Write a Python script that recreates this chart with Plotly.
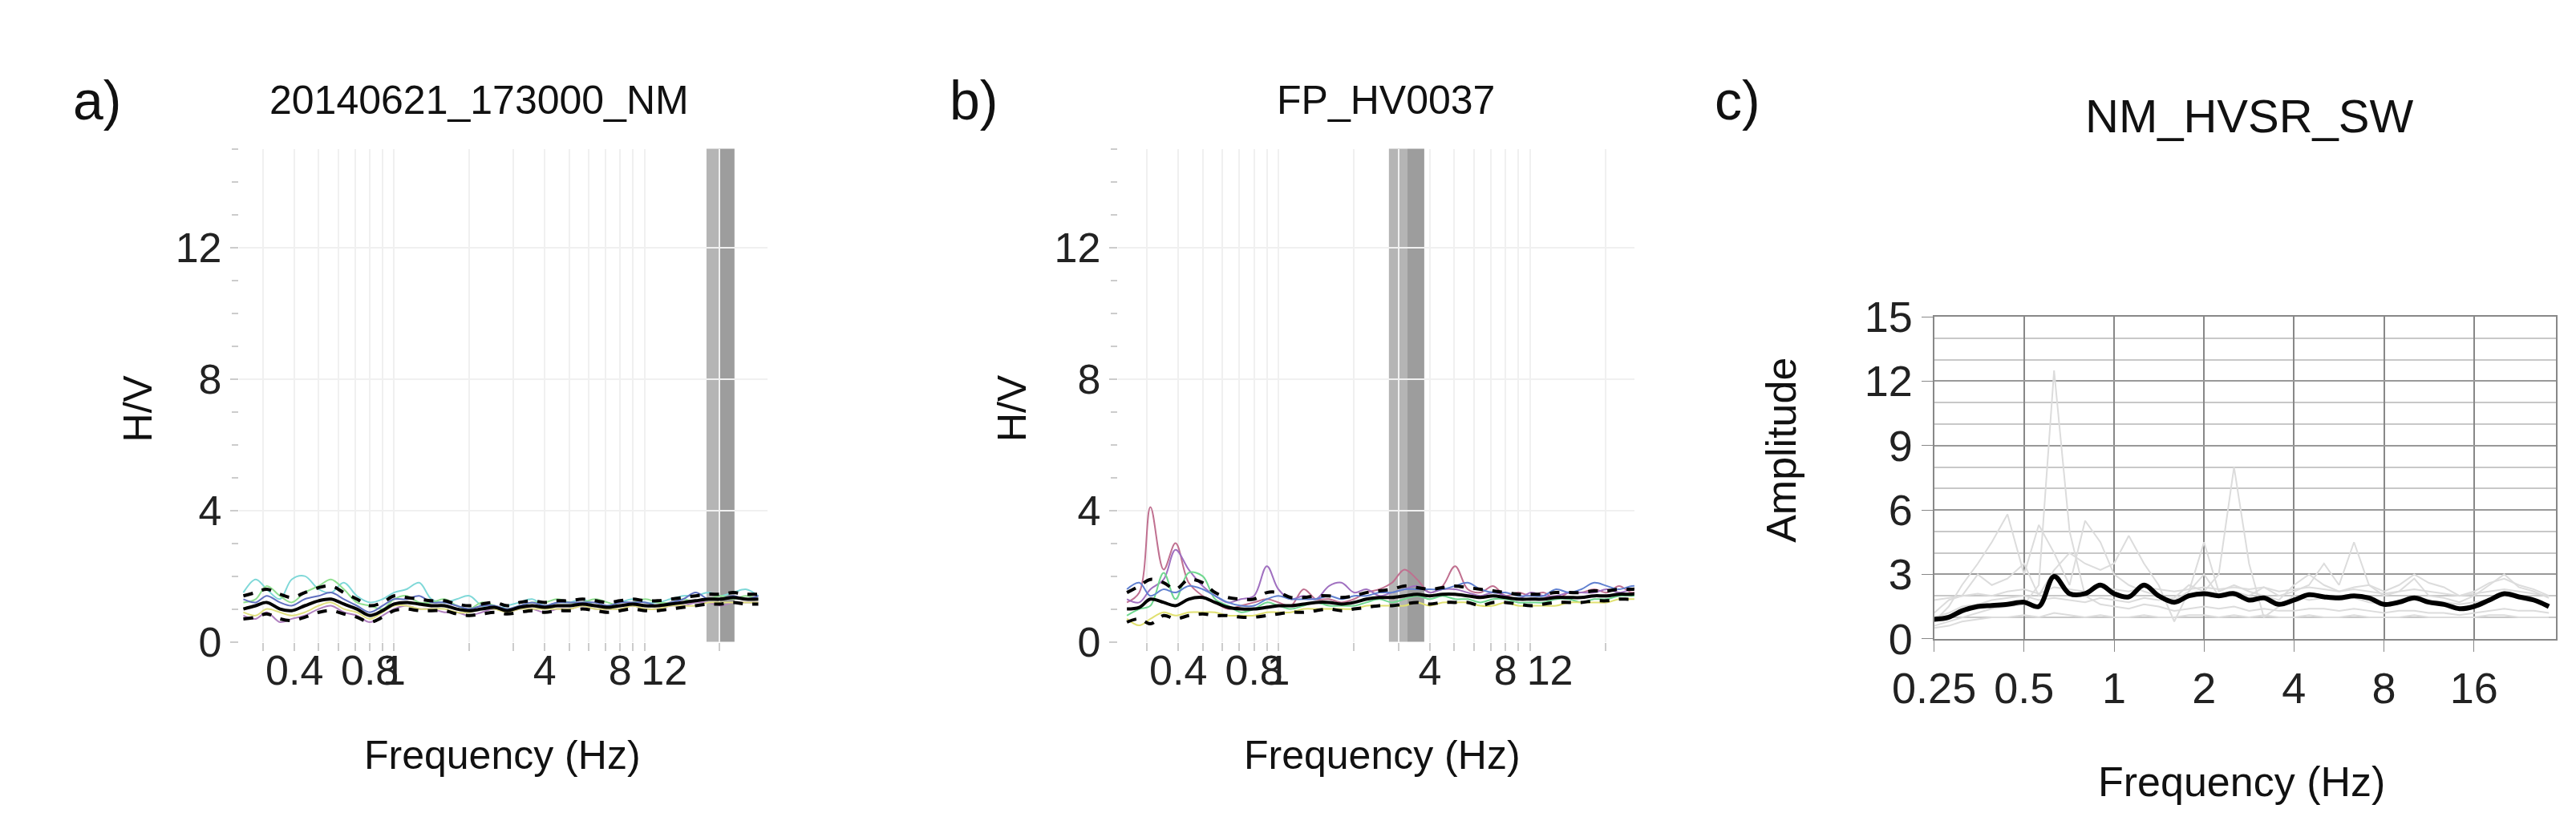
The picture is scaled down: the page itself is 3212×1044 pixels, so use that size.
import plotly.graph_objects as go
import math

freq = [0.25,0.28,0.31,0.35,0.39,0.44,0.5,0.56,0.63,0.71,0.8,0.9,1.0,1.12,1.26,1.41,1.59,1.78,2.0,2.24,2.52,2.83,3.17,3.56,4.0,4.49,5.04,5.66,6.35,7.13,8.0,8.98,10.1,11.3,12.7,14.3,16.0,18.0,20.2,22.6,25.4,28.5]

# Panel a
a_mean = [1.0,1.1,1.2,1.0,0.95,1.1,1.25,1.3,1.15,1.0,0.8,0.95,1.15,1.2,1.15,1.1,1.1,1.0,0.95,1.0,1.05,0.95,1.05,1.1,1.05,1.1,1.1,1.15,1.1,1.05,1.1,1.15,1.1,1.1,1.15,1.2,1.25,1.3,1.3,1.35,1.3,1.3]
a_up = [1.4,1.5,1.6,1.45,1.35,1.5,1.65,1.7,1.5,1.3,1.1,1.2,1.4,1.35,1.3,1.25,1.25,1.15,1.1,1.15,1.2,1.1,1.2,1.25,1.2,1.25,1.25,1.3,1.25,1.2,1.25,1.3,1.25,1.25,1.3,1.35,1.4,1.45,1.45,1.5,1.45,1.45]
a_lo = [0.7,0.75,0.85,0.7,0.65,0.75,0.9,0.95,0.85,0.75,0.6,0.75,0.95,1.0,0.95,0.95,0.95,0.85,0.8,0.85,0.9,0.85,0.9,0.95,0.9,0.95,0.95,1.0,0.95,0.9,0.95,1.0,0.95,0.95,1.0,1.05,1.1,1.15,1.15,1.2,1.15,1.15]
a_c1 = [1.5,1.9,1.6,1.3,1.9,2.0,1.6,1.5,1.8,1.4,1.2,1.3,1.5,1.6,1.8,1.3,1.2,1.3,1.4,1.1,1.0,1.1,1.2,1.3,1.1,1.2,1.2,1.3,1.1,1.1,1.2,1.3,1.2,1.2,1.3,1.4,1.4,1.5,1.4,1.5,1.6,1.4]
a_c2 = [1.2,1.3,1.7,1.4,1.2,1.5,1.7,1.9,1.6,1.2,1.1,1.0,1.3,1.4,1.2,1.2,1.3,1.1,1.0,1.2,1.1,1.0,1.1,1.2,1.2,1.3,1.2,1.2,1.3,1.2,1.1,1.2,1.3,1.2,1.2,1.3,1.2,1.3,1.4,1.3,1.4,1.3]
a_c3 = [0.8,0.7,0.9,0.6,0.7,0.8,1.0,1.1,0.9,0.8,0.6,0.8,1.0,1.1,1.0,1.0,0.9,0.9,0.8,0.9,1.0,0.9,1.0,1.0,0.9,1.0,1.0,1.1,1.0,1.0,1.0,1.1,1.0,1.0,1.1,1.1,1.2,1.2,1.1,1.2,1.2,1.2]
a_c4 = [1.3,1.2,1.4,1.2,1.1,1.3,1.4,1.5,1.3,1.1,0.9,1.1,1.3,1.3,1.4,1.2,1.2,1.1,1.0,1.1,1.1,1.0,1.1,1.2,1.1,1.2,1.2,1.2,1.2,1.1,1.2,1.2,1.2,1.1,1.2,1.3,1.5,1.3,1.3,1.4,1.3,1.4]
a_c5 = [0.9,0.8,1.0,0.9,0.8,0.9,1.1,1.2,1.0,0.9,0.7,0.9,1.1,1.1,1.0,1.0,1.0,0.9,0.9,1.0,1.0,0.9,1.0,1.0,1.0,1.0,1.0,1.1,1.0,1.0,1.0,1.1,1.0,1.0,1.1,1.1,1.1,1.2,1.2,1.2,1.2,1.2]
a_colors = ["#7fd8d8", "#90e090", "#b080c0", "#6070c0", "#e0e080"]

# Panel b
b_mean = [1.0,1.05,1.3,1.2,1.1,1.3,1.35,1.2,1.05,1.0,1.0,1.05,1.1,1.1,1.15,1.2,1.2,1.15,1.2,1.3,1.35,1.35,1.4,1.45,1.4,1.45,1.45,1.4,1.35,1.4,1.35,1.3,1.3,1.3,1.35,1.35,1.35,1.4,1.4,1.45,1.45,1.5]
b_up = [1.5,1.7,1.9,1.8,1.6,1.9,1.8,1.5,1.35,1.3,1.3,1.5,1.5,1.35,1.35,1.4,1.4,1.35,1.4,1.5,1.55,1.6,1.7,1.65,1.6,1.65,1.7,1.65,1.6,1.55,1.5,1.45,1.45,1.45,1.5,1.5,1.5,1.55,1.55,1.6,1.6,1.65]
b_lo = [0.6,0.7,0.55,0.8,0.7,0.8,0.85,0.8,0.8,0.75,0.75,0.8,0.85,0.9,0.9,0.95,1.0,0.95,1.0,1.05,1.1,1.1,1.15,1.2,1.15,1.2,1.2,1.2,1.1,1.2,1.2,1.15,1.1,1.15,1.2,1.2,1.2,1.25,1.25,1.3,1.3,1.35]
b_c1 = [1.2,1.5,4.1,2.2,3.0,1.8,1.4,1.2,1.0,1.1,1.2,1.3,1.2,1.1,1.6,1.3,1.3,1.2,1.3,1.5,1.6,1.8,2.2,1.9,1.5,1.7,2.3,1.6,1.5,1.7,1.4,1.5,1.4,1.5,1.3,1.5,1.5,1.6,1.5,1.7,1.5,1.6]
b_c2 = [1.3,1.2,1.6,1.9,2.8,2.2,1.7,1.4,1.2,1.3,1.4,2.3,1.6,1.3,1.4,1.3,1.7,1.8,1.5,1.6,1.4,1.5,1.6,1.7,1.5,1.6,1.6,1.5,1.4,1.5,1.4,1.3,1.5,1.4,1.4,1.5,1.5,1.5,1.6,1.5,1.6,1.7]
b_c3 = [0.8,1.0,1.1,2.1,1.3,2.1,2.0,1.3,1.1,0.9,1.0,1.2,1.1,1.0,1.1,1.2,1.1,1.1,1.1,1.2,1.3,1.2,1.3,1.4,1.3,1.4,1.3,1.3,1.2,1.3,1.3,1.2,1.2,1.2,1.3,1.3,1.2,1.3,1.3,1.4,1.4,1.4]
b_c4 = [1.6,1.8,1.4,1.6,1.5,1.7,1.6,1.4,1.2,1.1,1.1,1.3,1.4,1.3,1.3,1.3,1.4,1.3,1.4,1.4,1.5,1.5,1.6,1.6,1.6,1.6,1.7,1.8,1.6,1.5,1.5,1.4,1.4,1.4,1.6,1.5,1.6,1.8,1.7,1.6,1.7,1.7]
b_c5 = [0.7,0.5,0.7,0.9,0.8,0.9,0.9,0.9,0.8,0.8,0.8,0.9,0.9,0.9,1.0,1.0,1.0,1.0,1.0,1.1,1.1,1.1,1.1,1.2,1.1,1.2,1.2,1.2,1.1,1.1,1.2,1.1,1.1,1.1,1.1,1.2,1.2,1.2,1.2,1.3,1.3,1.3]
b_colors = ["#c07090", "#a070c0", "#70d890", "#6080d0", "#e0e070"]

# Panel c
c_mean = [0.9,1.0,1.3,1.5,1.55,1.6,1.7,1.5,2.9,2.1,2.1,2.5,2.1,1.95,2.5,2.0,1.7,2.0,2.1,2.0,2.1,1.8,1.9,1.6,1.8,2.05,1.95,1.9,2.0,1.9,1.6,1.7,1.9,1.7,1.6,1.4,1.5,1.8,2.1,1.95,1.8,1.5]
c_g1 = [0.6,0.8,1.0,1.2,1.4,1.5,1.6,2.5,12.5,5.0,2.0,1.6,1.5,1.4,1.6,1.5,1.3,1.4,1.5,1.4,1.5,1.3,1.4,1.3,1.3,1.4,1.4,1.3,1.4,1.3,1.2,1.3,1.3,1.2,1.2,1.1,1.2,1.3,1.4,1.3,1.3,1.2]
c_g2 = [1.0,1.2,1.5,1.6,1.8,1.9,2.0,1.8,1.9,1.8,1.7,1.9,1.8,1.7,1.9,1.8,1.9,2.5,2.2,3.0,8.0,3.5,1.0,1.5,2.0,1.8,1.9,1.8,1.9,1.7,1.6,1.8,2.0,1.8,1.7,1.6,1.7,1.8,2.0,1.9,1.8,1.6]
c_g3 = [0.8,1.5,2.5,3.5,4.5,5.8,3.0,5.3,4.0,2.5,5.5,4.5,3.0,2.5,2.2,2.0,1.8,2.2,3.0,2.0,2.2,2.0,2.4,2.0,2.2,2.5,3.5,2.5,4.5,2.5,2.0,2.2,2.8,2.0,1.9,1.7,2.0,2.5,3.0,2.4,2.2,1.9]
c_g4 = [1.2,1.8,2.0,3.0,2.5,2.8,3.5,2.0,3.2,4.0,3.5,3.2,3.5,4.8,3.5,2.5,0.8,2.2,4.5,2.2,2.5,2.2,2.0,1.8,2.5,3.0,2.5,2.2,2.4,2.5,2.2,2.5,3.0,2.6,2.4,2.0,2.2,2.6,2.8,2.5,2.3,2.0]
c_g5 = [0.5,0.6,0.8,0.9,1.0,1.0,1.1,1.0,1.2,1.1,1.0,1.1,1.0,1.0,1.1,1.0,1.0,1.1,1.1,1.0,1.1,1.0,1.1,1.0,1.0,1.1,1.0,1.0,1.1,1.0,1.0,1.0,1.1,1.0,1.0,1.0,1.0,1.1,1.1,1.0,1.0,1.0]
c_g6 = [1.8,1.9,2.0,2.1,2.0,2.2,2.3,2.1,2.4,2.3,2.2,2.4,2.3,2.2,2.4,2.3,2.2,2.3,2.4,2.3,2.4,2.3,2.4,2.2,2.3,2.4,2.3,2.2,2.3,2.2,2.1,2.2,2.3,2.2,2.1,2.0,2.1,2.2,2.3,2.2,2.1,2.0]

# Band regions (Hz)
a_band = [17.7, 20.0, 22.9]
b_band = [2.75, 3.26, 3.8]

ab_ticks = [0.4, 0.8, 1, 4, 8, 12]
ab_grid = [0.3, 0.4, 0.5, 0.6, 0.7, 0.8, 0.9, 1, 2, 3, 4, 5, 6, 7, 8, 9, 10, 20]
c_ticks = [0.25, 0.5, 1, 2, 4, 8, 16]

FONT = "Liberation Sans, Arial, sans-serif"
fig = go.Figure()

def add_panel(xa, ya, mean, up, lo, cols, colors):
    for s, c in zip(cols, colors):
        fig.add_trace(go.Scatter(x=freq, y=s, mode="lines", line=dict(color=c, width=2, shape="spline"), xaxis=xa, yaxis=ya, showlegend=False))
    fig.add_trace(go.Scatter(x=freq, y=up, mode="lines", line=dict(color="black", width=4, dash="dash", shape="spline"), xaxis=xa, yaxis=ya, showlegend=False))
    fig.add_trace(go.Scatter(x=freq, y=lo, mode="lines", line=dict(color="black", width=4, dash="dash", shape="spline"), xaxis=xa, yaxis=ya, showlegend=False))
    fig.add_trace(go.Scatter(x=freq, y=mean, mode="lines", line=dict(color="black", width=4, shape="spline"), xaxis=xa, yaxis=ya, showlegend=False))

add_panel("x", "y", a_mean, a_up, a_lo, [a_c1, a_c2, a_c3, a_c4, a_c5], a_colors)
add_panel("x2", "y2", b_mean, b_up, b_lo, [b_c1, b_c2, b_c3, b_c4, b_c5], b_colors)

for s in [c_g1, c_g2, c_g3, c_g4, c_g5, c_g6]:
    fig.add_trace(go.Scatter(x=freq, y=s, mode="lines", line=dict(color="#dcdcdc", width=2), xaxis="x3", yaxis="y3", showlegend=False))
fig.add_trace(go.Scatter(x=freq, y=c_mean, mode="lines", line=dict(color="black", width=6, shape="spline"), xaxis="x3", yaxis="y3", showlegend=False))

# bands
for xr, yr, band in [("x", "y", a_band), ("x2", "y2", b_band)]:
    fig.add_shape(type="rect", xref=xr, yref=yr + " domain", x0=band[0], x1=band[1], y0=0, y1=1, fillcolor="#b5b5b5", line_width=0, layer="below")
    fig.add_shape(type="rect", xref=xr, yref=yr + " domain", x0=band[1], x1=band[2], y0=0, y1=1, fillcolor="#9d9d9d", line_width=0, layer="below")

tickfont = dict(family=FONT, size=52, color="#222")
ab_x = dict(type="log", tickvals=ab_ticks, ticktext=[str(t) for t in ab_ticks], tickfont=tickfont, tickangle=0,
            showgrid=False, zeroline=False, showline=False, ticks="",
            minor=dict(tickvals=ab_grid, ticks="outside", ticklen=10, tickwidth=2, tickcolor="#ccc", showgrid=True, gridcolor="#f0f0f0", gridwidth=2))
ab_y = dict(range=[0, 15], tickvals=[0, 4, 8, 12], tickfont=tickfont, showgrid=True, gridcolor="#f0f0f0", gridwidth=2, zeroline=False,
            ticks="outside", ticklen=10, tickwidth=2, tickcolor="#ccc",
            minor=dict(dtick=1, ticks="outside", ticklen=8, tickwidth=2, tickcolor="#ccc", showgrid=False))

fig.update_layout(
    width=3212, height=1044, margin=dict(l=0, r=0, t=0, b=0),
    paper_bgcolor="white", plot_bgcolor="white", font=dict(family=FONT),
    xaxis=dict(domain=[0.075, 0.2836], range=[math.log10(0.24), math.log10(31)], anchor="y", **ab_x),
    yaxis=dict(domain=[0.225, 0.85], anchor="x", **ab_y),
    xaxis2=dict(domain=[0.4219, 0.6258], range=[math.log10(0.23), math.log10(26)], anchor="y2", **ab_x),
    yaxis2=dict(domain=[0.225, 0.85], anchor="x2", **ab_y),
    xaxis3=dict(domain=[0.7441, 0.9894], type="log", range=[math.log10(0.25), math.log10(30)], anchor="y3",
                tickvals=c_ticks, ticktext=["0.25", "0.5", "1", "2", "4", "8", "16"], tickangle=0,
                tickfont=dict(family=FONT, size=54, color="#222"), showgrid=True, gridcolor="#888", gridwidth=2,
                showline=True, linecolor="#888", linewidth=2, mirror=True, ticks="outside", ticklen=14, tickcolor="#888", zeroline=False),
    yaxis3=dict(domain=[0.229, 0.637], range=[0, 15], dtick=3, anchor="x3",
                tickfont=dict(family=FONT, size=54, color="#222"), showgrid=True, gridcolor="#999", gridwidth=2,
                showline=True, linecolor="#888", linewidth=2, mirror=True, ticks="outside", ticklen=14, tickcolor="#888", zeroline=False,
                minor=dict(dtick=1, showgrid=True, gridcolor="#c8c8c8", gridwidth=2)),
)

ann = [
    dict(text="a)", x=28, y=92, size=68, xanchor="left"),
    dict(text="20140621_173000_NM", x=545, y=92, size=50),
    dict(text="Frequency (Hz)", x=575, y=959, size=50),
    dict(text="b)", x=1140, y=92, size=68, xanchor="left"),
    dict(text="FP_HV0037", x=1695, y=92, size=50),
    dict(text="Frequency (Hz)", x=1690, y=959, size=50),
    dict(text="c)", x=2110, y=92, size=68, xanchor="left"),
    dict(text="NM_HVSR_SW", x=2790, y=113, size=58),
    dict(text="Frequency (Hz)", x=2780, y=994, size=52),
]
for a in ann:
    fig.add_annotation(text=a["text"], x=a["x"] / 3212, y=1 - a["y"] / 1044, xref="paper", yref="paper",
                       showarrow=False, xanchor=a.get("xanchor", "center"), yanchor="middle",
                       font=dict(family=FONT, size=a["size"], color="#111"))
for text, x, y, size in [("H/V", 113, 500, 50), ("H/V", 1221, 500, 50), ("Amplitude", 2196, 555, 52)]:
    fig.add_annotation(text=text, x=x / 3212, y=1 - y / 1044, xref="paper", yref="paper", showarrow=False,
                       textangle=-90, xanchor="center", yanchor="middle", font=dict(family=FONT, size=size, color="#111"))

fig.write_html("out.html")
